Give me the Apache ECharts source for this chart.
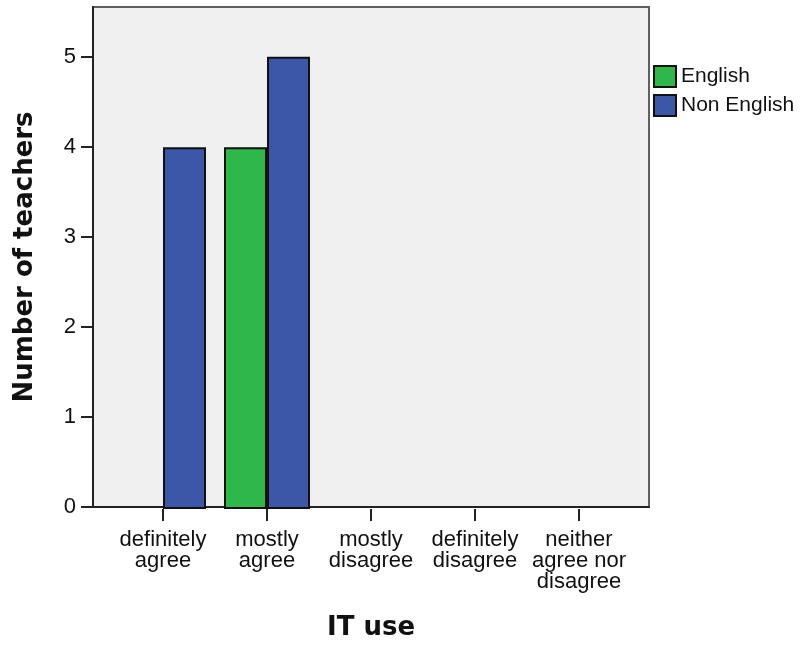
<!DOCTYPE html>
<html>
<head>
<meta charset="utf-8">
<script src="https://cdn.jsdelivr.net/npm/echarts@6/dist/echarts.min.js"></script>
<style>
  html, body { margin: 0; padding: 0; background: #fff; }
  #chart { width: 806px; height: 646px; }
</style>
</head>
<body>
<div id="chart"></div>
<script>
var categories = [
  "definitely\nagree",
  "mostly\nagree",
  "mostly\ndisagree",
  "definitely\ndisagree",
  "neither\nagree nor\ndisagree"
];
var englishValues = [0, 4, 0, 0, 0];
var nonEnglishValues = [4, 5, 0, 0, 0];
var yTicks = [0, 1, 2, 3, 4, 5];
var yMax = 5.55;

// SPSS leaves empty bars out, so zero counts are not drawn
function hideZero(arr) {
  return arr.map(function (v) { return v === 0 ? "-" : v; });
}

var labelFont = "'Liberation Sans', Arial, sans-serif";
var titleFont = "'DejaVu Sans', Verdana, sans-serif";

var myChart = echarts.init(document.getElementById("chart"));
var option = {
  backgroundColor: "#ffffff",
  animation: false,
  legend: {
    orient: "vertical",
    left: 648,
    top: 60,
    itemWidth: 22,
    itemHeight: 21,
    itemGap: 6,
    icon: "rect",
    textStyle: { fontFamily: labelFont, fontSize: 21, color: "#111" },
    data: ["English", "Non English"]
  },
  grid: [
    // outer frame with the grey plot background
    {
      left: 93, right: 157, top: 7, bottom: 137,
      show: true,
      backgroundColor: "#f0f0f0",
      borderColor: "#606060",
      borderWidth: 2
    },
    // inner area where the categories sit
    { left: 111, right: 175, top: 7, bottom: 137 }
  ],
  xAxis: [
    {
      gridIndex: 0,
      type: "category",
      data: [""],
      axisLine: { show: true, lineStyle: { color: "#222", width: 2 } },
      axisTick: { show: false },
      axisLabel: { show: false },
      name: "IT use",
      nameLocation: "middle",
      nameGap: 108,
      nameTextStyle: { fontFamily: titleFont, fontSize: 26, fontWeight: "bold", color: "#111" }
    },
    {
      gridIndex: 1,
      type: "category",
      data: categories,
      axisLine: { show: false },
      axisTick: { show: true, alignWithLabel: true, length: 12, lineStyle: { color: "#222", width: 2 } },
      axisLabel: {
        interval: 0,
        margin: 20,
        fontFamily: labelFont,
        fontSize: 22,
        lineHeight: 21,
        color: "#111"
      }
    }
  ],
  yAxis: [
    {
      gridIndex: 0,
      type: "value",
      min: 0,
      max: yMax,
      interval: 1,
      splitLine: { show: false },
      axisLine: { show: true, lineStyle: { color: "#222", width: 2 } },
      axisTick: { show: true, length: 12, customValues: yTicks, lineStyle: { color: "#222", width: 2 } },
      axisLabel: { margin: 17, customValues: yTicks, fontFamily: labelFont, fontSize: 22, color: "#111" },
      name: "Number of teachers",
      nameLocation: "middle",
      nameGap: 55,
      nameRotate: 90,
      nameTextStyle: { fontFamily: titleFont, fontSize: 26, fontWeight: "bold", color: "#111" }
    },
    {
      gridIndex: 1,
      type: "value",
      min: 0,
      max: yMax,
      show: false
    }
  ],
  series: [
    {
      name: "English",
      type: "bar",
      xAxisIndex: 1,
      yAxisIndex: 1,
      barWidth: 43,
      barGap: "0%",
      data: hideZero(englishValues),
      itemStyle: { color: "#2eb84a", borderColor: "#111", borderWidth: 2 }
    },
    {
      name: "Non English",
      type: "bar",
      xAxisIndex: 1,
      yAxisIndex: 1,
      barWidth: 43,
      barGap: "0%",
      data: hideZero(nonEnglishValues),
      itemStyle: { color: "#3c56a8", borderColor: "#111", borderWidth: 2 }
    }
  ]
};
myChart.setOption(option);
</script>
</body>
</html>
